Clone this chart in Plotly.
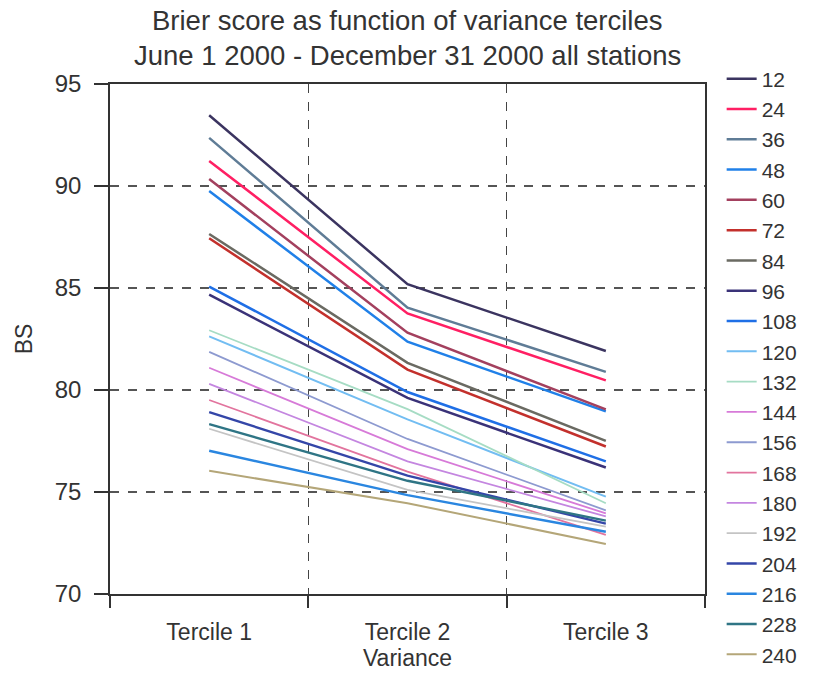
import plotly.graph_objects as go

categories = ["Tercile 1", "Tercile 2", "Tercile 3"]
lead_labels = ["12", "24", "36", "48", "60", "72", "84", "96", "108", "120",
               "132", "144", "156", "168", "180", "192", "204", "216", "228", "240"]

bs_12 = [93.47, 85.19, 81.91]
bs_24 = [91.23, 83.75, 80.47]
bs_36 = [92.36, 84.04, 80.89]
bs_48 = [89.75, 82.37, 78.95]
bs_60 = [90.34, 82.81, 79.05]
bs_72 = [87.44, 81.00, 77.23]
bs_84 = [87.65, 81.33, 77.51]
bs_96 = [84.67, 79.61, 76.20]
bs_108 = [85.07, 79.90, 76.50]
bs_120 = [82.63, 78.56, 74.77]
bs_132 = [82.93, 79.06, 74.45]
bs_144 = [81.09, 77.10, 73.95]
bs_156 = [81.87, 77.60, 74.10]
bs_168 = [79.51, 76.00, 72.90]
bs_180 = [80.30, 76.50, 73.80]
bs_192 = [78.10, 75.10, 73.30]
bs_204 = [78.92, 75.80, 73.45]
bs_216 = [77.02, 74.85, 73.05]
bs_228 = [78.33, 75.55, 73.60]
bs_240 = [76.04, 74.45, 72.45]

series = [bs_12, bs_24, bs_36, bs_48, bs_60, bs_72, bs_84, bs_96, bs_108, bs_120,
          bs_132, bs_144, bs_156, bs_168, bs_180, bs_192, bs_204, bs_216, bs_228, bs_240]

colors = ["#3b3460", "#ff1f63", "#5f7c96", "#2080e8", "#a3405e", "#c3302c",
          "#6a6a62", "#3a3278", "#1f6fe6", "#72bdf2", "#a6dcc4", "#d77ad8",
          "#8d9ad0", "#e2749e", "#c486e0", "#c4c4c4", "#3446a8", "#2a86e0",
          "#2f7585", "#b4a678"]
widths = [2.5, 2.5, 2.5, 2.5, 2.5, 2.5, 2.5, 2.5, 2.5, 2.0,
          1.8, 1.8, 1.8, 1.8, 1.8, 1.8, 2.4, 2.4, 2.4, 2.0]

fig = go.Figure()
for lab, vals, c, w in zip(lead_labels, series, colors, widths):
    fig.add_trace(go.Scatter(x=categories, y=vals, mode="lines", name=lab,
                             line=dict(color=c, width=w)))

font_family = "Liberation Sans, Arial, sans-serif"
fig.update_layout(
    width=833, height=677,
    margin=dict(l=110, r=128, t=84, b=83),
    paper_bgcolor="white", plot_bgcolor="white",
    font=dict(family=font_family, size=21, color="#333333"),
    showlegend=True,
    legend=dict(x=1.028, y=1.05, xanchor="left", yanchor="top",
                font=dict(size=21, color="#333333"), bgcolor="rgba(0,0,0,0)",
                tracegroupgap=0, maxheight=676),
    xaxis=dict(type="category", range=[-0.5, 2.5], tickson="boundaries",
               showgrid=True, gridcolor="#444444", griddash="dash", gridwidth=1,
               showline=True, linecolor="#333333", linewidth=1.5, mirror=True,
               ticks="outside", ticklen=12, tickcolor="#333333", tickwidth=1.5,
               tickfont=dict(size=23), ticklabelstandoff=17,
               title=dict(text="Variance", font=dict(size=23), standoff=4),
               zeroline=False),
    yaxis=dict(range=[70, 95], tickvals=[70, 75, 80, 85, 90, 95],
               showgrid=True, gridcolor="#555555", griddash="dash", gridwidth=1.5,
               showline=True, linecolor="#333333", linewidth=1.5, mirror=True,
               ticks="outside", ticklen=14, tickcolor="#333333", tickwidth=1.5,
               tickfont=dict(size=24), ticklabelstandoff=8,
               title=dict(text="BS", font=dict(size=23), standoff=16),
               zeroline=False),
    annotations=[
        dict(text="Brier score as function of variance terciles", xref="paper",
             yref="paper", x=0.5, y=1 + (84 - 20) / 510, xanchor="center",
             yanchor="middle", showarrow=False, font=dict(size=27.5, color="#333333")),
        dict(text="June 1 2000 - December 31 2000 all stations", xref="paper",
             yref="paper", x=0.5, y=1 + (84 - 56) / 510, xanchor="center",
             yanchor="middle", showarrow=False, font=dict(size=27.5, color="#333333")),
    ],
)

fig.write_html("out.html")
